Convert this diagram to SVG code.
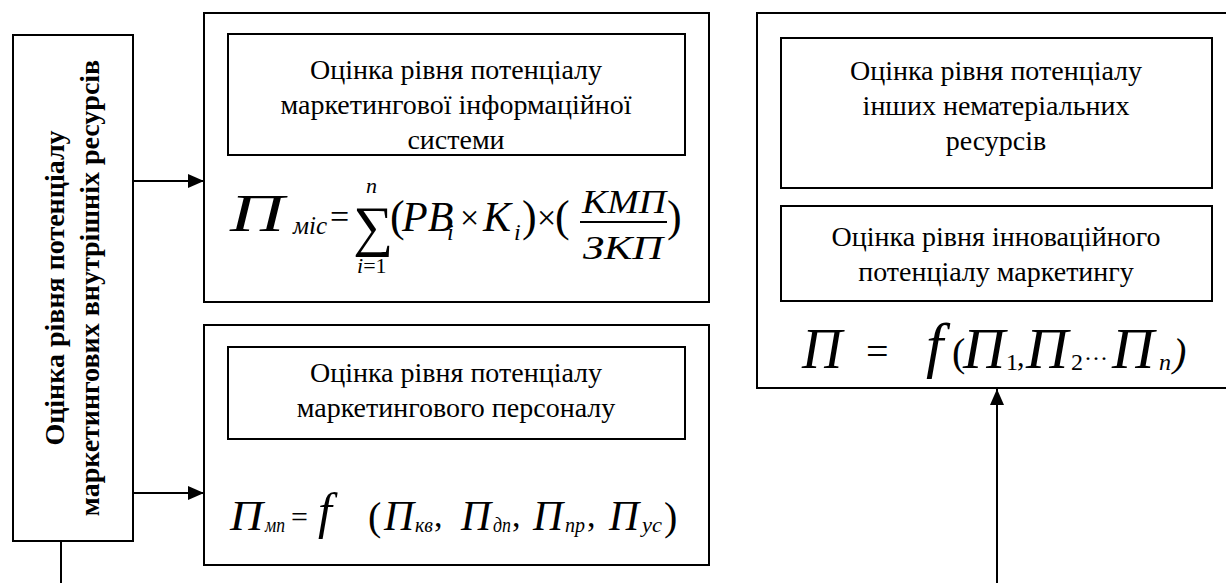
<svg xmlns="http://www.w3.org/2000/svg" width="1226" height="583" viewBox="0 0 1226 583">
<style>
.box{fill:#fff;stroke:#000;stroke-width:2}
.ibox{fill:none;stroke:#000;stroke-width:2}
.ln{stroke:#000;stroke-width:2;fill:none}
.t{font-family:'Liberation Serif',serif;font-size:28px;text-anchor:middle;fill:#000}
.tb{font-family:'Liberation Serif',serif;font-size:28px;font-weight:bold;text-anchor:middle;fill:#000}
.m{font-family:'Liberation Serif',serif;fill:#000}
.i{font-style:italic}
</style>
<defs>
<marker id="ah" viewBox="0 0 16 14" refX="16" refY="7" markerWidth="16" markerHeight="14" markerUnits="userSpaceOnUse" orient="auto">
<path d="M0,0 L16,7 L0,14 Z" fill="#000"/>
</marker>
</defs>

<g id="connectors">
<line class="ln" x1="134" y1="181" x2="204" y2="181" marker-end="url(#ah)"/>
<line class="ln" x1="134" y1="493" x2="204" y2="493" marker-end="url(#ah)"/>
<line class="ln" x1="61" y1="541" x2="61" y2="583"/>
<line class="ln" x1="997" y1="583" x2="997" y2="389" marker-end="url(#ah)"/>
</g>

<g id="left">
<rect class="box" x="13" y="35" width="120" height="506"/>
<text class="tb" transform="translate(64,288) rotate(-90)">Оцінка рівня потенціалу</text>
<text class="tb" transform="translate(99,288) rotate(-90)">маркетингових внутрішніх ресурсів</text>
</g>

<g id="mis">
<rect class="box" x="204" y="13" width="505" height="289"/>
<rect class="ibox" x="228" y="34" width="457" height="121"/>
<text class="t" x="456" y="79">Оцінка рівня потенціалу</text>
<text class="t" x="456" y="114">маркетингової інформаційної</text>
<text class="t" x="456" y="149">системи</text>
<g class="m">
<text class="i" x="230" y="231" font-size="52" textLength="54" lengthAdjust="spacingAndGlyphs">П</text>
<text class="i" x="293" y="234" font-size="26" textLength="34" lengthAdjust="spacingAndGlyphs">міс</text>
<text x="330" y="228" font-size="34">=</text>
<text x="353" y="245" font-size="56">∑</text>
<text class="i" x="366" y="193" font-size="22">n</text>
<text x="357" y="273" font-size="22"><tspan font-style="italic">i</tspan>=1</text>
<text x="390" y="231" font-size="44">(</text>
<text class="i" x="402" y="231" font-size="42">PB</text>
<text class="i" x="447" y="240" font-size="24">i</text>
<text x="460" y="229" font-size="34">×</text>
<text class="i" x="483" y="231" font-size="42">K</text>
<text class="i" x="514" y="240" font-size="24">i</text>
<text x="522" y="231" font-size="44">)</text>
<text x="537" y="229" font-size="34">×</text>
<text x="555" y="231" font-size="44">(</text>
<text class="i" x="582" y="213" font-size="34" textLength="84" lengthAdjust="spacingAndGlyphs">КМП</text>
<line x1="580" y1="222" x2="667" y2="222" stroke="#000" stroke-width="2"/>
<text class="i" x="583" y="259" font-size="34" textLength="80" lengthAdjust="spacingAndGlyphs">ЗКП</text>
<text x="667" y="231" font-size="44">)</text>
</g>
</g>

<g id="mp">
<rect class="box" x="204" y="325" width="505" height="240"/>
<rect class="ibox" x="228" y="347" width="457" height="92"/>
<text class="t" x="456" y="382">Оцінка рівня потенціалу</text>
<text class="t" x="456" y="417">маркетингового персоналу</text>
<g class="m">
<text class="i" x="230" y="530" font-size="42" textLength="33" lengthAdjust="spacingAndGlyphs">П</text>
<text class="i" x="265" y="532" font-size="20" textLength="20" lengthAdjust="spacingAndGlyphs">мп</text>
<text x="291" y="527" font-size="30">=</text>
<text class="i" x="318" y="528" font-size="50">f</text>
<text x="368" y="530" font-size="40">(</text>
<text class="i" x="384" y="530" font-size="42" textLength="30" lengthAdjust="spacingAndGlyphs">П</text>
<text class="i" x="415" y="532" font-size="20" textLength="18" lengthAdjust="spacingAndGlyphs">кв</text>
<text x="434" y="527" font-size="34">,</text>
<text class="i" x="461" y="530" font-size="42" textLength="30" lengthAdjust="spacingAndGlyphs">П</text>
<text class="i" x="493" y="532" font-size="20" textLength="18" lengthAdjust="spacingAndGlyphs">дп</text>
<text x="512" y="527" font-size="34">,</text>
<text class="i" x="533" y="530" font-size="42" textLength="30" lengthAdjust="spacingAndGlyphs">П</text>
<text class="i" x="565" y="532" font-size="20" textLength="20" lengthAdjust="spacingAndGlyphs">пр</text>
<text x="587" y="527" font-size="34">,</text>
<text class="i" x="609" y="530" font-size="42" textLength="30" lengthAdjust="spacingAndGlyphs">П</text>
<text class="i" x="642" y="532" font-size="20" textLength="20" lengthAdjust="spacingAndGlyphs">ус</text>
<text x="664" y="530" font-size="40">)</text>
</g>
</g>

<g id="right">
<rect class="box" x="757" y="13" width="480" height="375"/>
<rect class="ibox" x="781" y="38" width="431" height="150"/>
<text class="t" x="996" y="80">Оцінка рівня потенціалу</text>
<text class="t" x="996" y="115">інших нематеріальних</text>
<text class="t" x="996" y="150">ресурсів</text>
<rect class="ibox" x="781" y="206" width="431" height="95"/>
<text class="t" x="996" y="246">Оцінка рівня інноваційного</text>
<text class="t" x="996" y="281">потенціалу маркетингу</text>
<g class="m">
<text class="i" x="802" y="368" font-size="56" textLength="40" lengthAdjust="spacingAndGlyphs">П</text>
<text x="866" y="365" font-size="40">=</text>
<text class="i" x="926" y="366" font-size="62">f</text>
<text x="952" y="366" font-size="40">(</text>
<text class="i" x="963" y="368" font-size="56" textLength="42" lengthAdjust="spacingAndGlyphs">П</text>
<text x="1006" y="370" font-size="24">1</text>
<text x="1017" y="366" font-size="30">,</text>
<text class="i" x="1026" y="368" font-size="56" textLength="42" lengthAdjust="spacingAndGlyphs">П</text>
<text x="1071" y="370" font-size="24">2</text>
<text x="1084" y="366" font-size="24">···</text>
<text class="i" x="1112" y="368" font-size="56" textLength="42" lengthAdjust="spacingAndGlyphs">П</text>
<text class="i" x="1159" y="370" font-size="24">n</text>
<text class="i" x="1173" y="366" font-size="40">)</text>
</g>
</g>
</svg>
